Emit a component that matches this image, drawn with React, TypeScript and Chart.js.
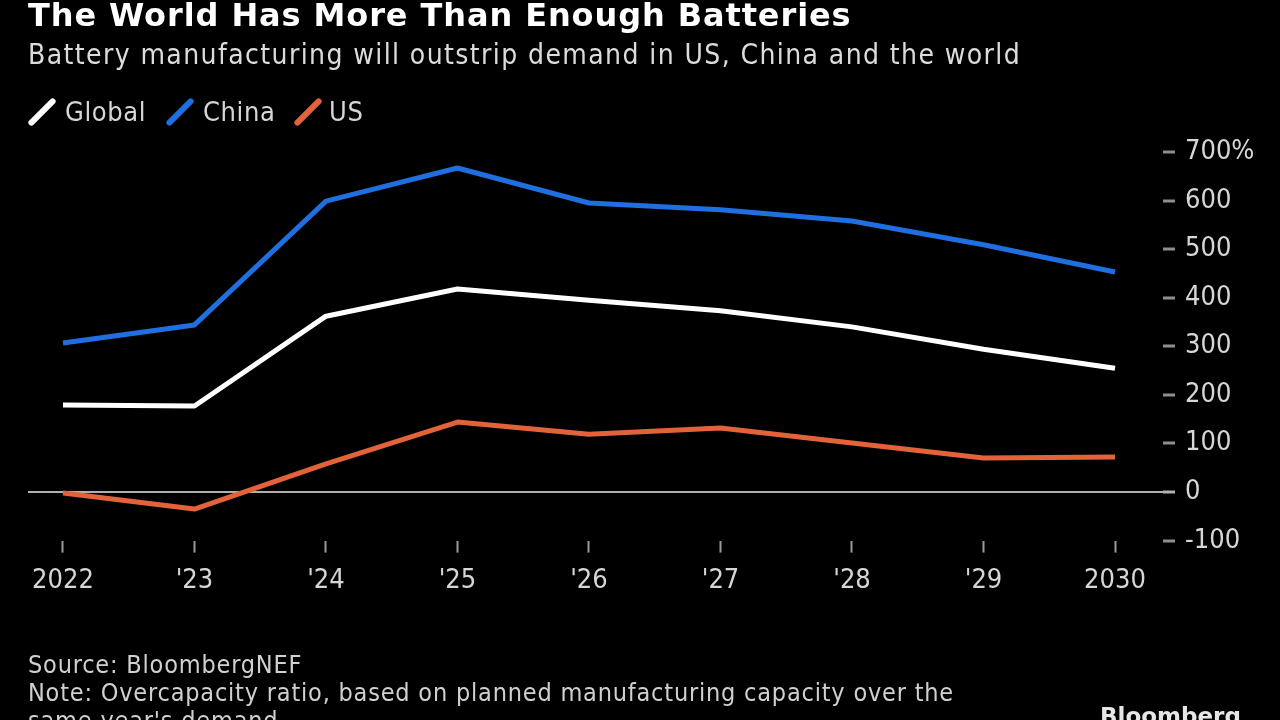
import React, { useEffect, useRef } from "react";
import { Chart, registerables } from "chart.js";

Chart.register(...registerables);

const years = [2022, 2023, 2024, 2025, 2026, 2027, 2028, 2029, 2030];
const yearLabels = ["2022", "'23", "'24", "'25", "'26", "'27", "'28", "'29", "2030"];
const globalValues = [179, 177, 362, 418, 395, 373, 340, 294, 255];
const chinaValues = [307, 344, 599, 667, 595, 581, 558, 509, 453];
const usValues = [-2, -35, 58, 144, 119, 132, 101, 70, 72];
const yTicks = [-100, 0, 100, 200, 300, 400, 500, 600, 700];

const seriesNames = ["Global", "China", "US"];
const seriesColors = ["#ffffff", "#1f6fe0", "#e2623a"];

const FONT = "'DejaVu Sans Condensed', 'Liberation Sans Narrow', 'DejaVu Sans', sans-serif";

export default function App() {
  const canvasRef = useRef<HTMLCanvasElement | null>(null);

  useEffect(() => {
    const prevMargin = document.body.style.margin;
    document.body.style.margin = "0";
    document.body.style.background = "#000";
    const canvas = canvasRef.current;
    if (!canvas) return;
    const seriesValues = [globalValues, chinaValues, usValues];
    const chart = new Chart(canvas, {
      type: "line",
      data: {
        datasets: seriesNames.map((name, i) => ({
          label: name,
          data: years.map((yr, j) => ({ x: yr, y: seriesValues[i][j] })),
          borderColor: seriesColors[i],
          backgroundColor: seriesColors[i],
          borderWidth: 5,
          pointRadius: 0,
          tension: 0,
          borderJoinStyle: "round" as const,
          borderCapStyle: "butt" as const,
        })),
      },
      options: {
        animation: false,
        responsive: false,
        maintainAspectRatio: false,
        layout: { padding: { left: 28, top: 152, right: 0, bottom: 0 } },
        plugins: {
          legend: { display: false },
          tooltip: { enabled: false },
        },
        scales: {
          x: {
            type: "linear",
            min: 2021.734,
            max: 2030.365,
            afterBuildTicks: (scale: any) => {
              scale.ticks = years.map((v) => ({ value: v }));
            },
            afterFit: (scale: any) => {
              scale.height = 720 - 540.6;
            },
            border: { display: false },
            grid: {
              drawOnChartArea: false,
              drawTicks: true,
              tickLength: 12,
              tickColor: "#9a9a9a",
              tickWidth: 2,
            },
            ticks: {
              color: "#d6d6d6",
              font: { family: FONT, size: 27 },
              padding: 12,
              maxRotation: 0,
              autoSkip: false,
              callback: (v: any) => {
                const idx = years.indexOf(Number(v));
                return idx >= 0 ? yearLabels[idx] : "";
              },
            },
          },
          y: {
            position: "right",
            min: -100,
            max: 700,
            afterBuildTicks: (scale: any) => {
              scale.ticks = yTicks.map((v) => ({ value: v }));
            },
            afterFit: (scale: any) => {
              scale.width = 1280 - 1163;
            },
            border: { display: false },
            grid: {
              drawOnChartArea: true,
              color: (ctx: any) => (ctx.tick && ctx.tick.value === 0 ? "#b0b0b0" : "rgba(0,0,0,0)"),
              lineWidth: 2,
              tickLength: 12,
              tickColor: (ctx: any) => (ctx.tick && ctx.tick.value === 0 ? "#b0b0b0" : "#8f8f8f"),
              tickWidth: 3,
            },
            ticks: {
              color: "#d6d6d6",
              font: { family: FONT, size: 27 },
              padding: 10,
              crossAlign: "near",
              callback: (v: any) => (Number(v) === 700 ? "700%" : String(v)),
            },
          },
        },
      },
    } as any);
    return () => {
      chart.destroy();
      document.body.style.margin = prevMargin;
    };
  }, []);

  const legendItem = (name: string, color: string, iconCenter: number, textLeft: number) => (
    <React.Fragment key={name}>
      <span
        style={{
          position: "absolute",
          left: iconCenter - 3,
          top: 112 - 18,
          width: 6,
          height: 36,
          background: color,
          borderRadius: 3,
          transform: "rotate(45deg)",
        }}
      />
      <span
        style={{
          position: "absolute",
          left: textLeft,
          top: 96,
          lineHeight: "32px",
          color: "#d6d6d6",
          fontFamily: FONT,
          fontSize: 27,
          letterSpacing: 0.6,
          whiteSpace: "nowrap",
        }}
      >
        {name}
      </span>
    </React.Fragment>
  );

  return (
    <div
      style={{
        position: "fixed",
        left: 0,
        top: 0,
        width: 1280,
        height: 720,
        background: "#000",
        overflow: "hidden",
      }}
    >
      <canvas ref={canvasRef} width={1280} height={720} style={{ position: "absolute", left: 0, top: 0 }} />
      <div
        style={{
          position: "absolute",
          left: 28,
          top: -4,
          color: "#ffffff",
          fontFamily: "'DejaVu Sans', sans-serif",
          fontWeight: "bold",
          fontSize: 32,
          letterSpacing: 0.9,
          whiteSpace: "nowrap",
        }}
      >
        The World Has More Than Enough Batteries
      </div>
      <div
        style={{
          position: "absolute",
          left: 28,
          top: 38,
          color: "#dcdcdc",
          fontFamily: FONT,
          fontSize: 28,
          letterSpacing: 1.4,
          whiteSpace: "nowrap",
        }}
      >
        Battery manufacturing will outstrip demand in US, China and the world
      </div>
      {legendItem(seriesNames[0], seriesColors[0], 41.5, 65)}
      {legendItem(seriesNames[1], seriesColors[1], 180, 203)}
      {legendItem(seriesNames[2], seriesColors[2], 307.5, 329)}
      <div
        style={{
          position: "absolute",
          left: 28,
          top: 651,
          color: "#d0d0d0",
          fontFamily: FONT,
          fontSize: 25,
          letterSpacing: 0.8,
          lineHeight: "28px",
          whiteSpace: "nowrap",
        }}
      >
        <div>Source: BloombergNEF</div>
        <div>Note: Overcapacity ratio, based on planned manufacturing capacity over the</div>
        <div>same year's demand</div>
      </div>
      <div
        style={{
          position: "absolute",
          left: 1100,
          top: 703,
          color: "#e6e6e6",
          fontFamily: "'DejaVu Sans', sans-serif",
          fontWeight: "bold",
          fontSize: 23,
          whiteSpace: "nowrap",
        }}
      >
        Bloomberg
      </div>
    </div>
  );
}
